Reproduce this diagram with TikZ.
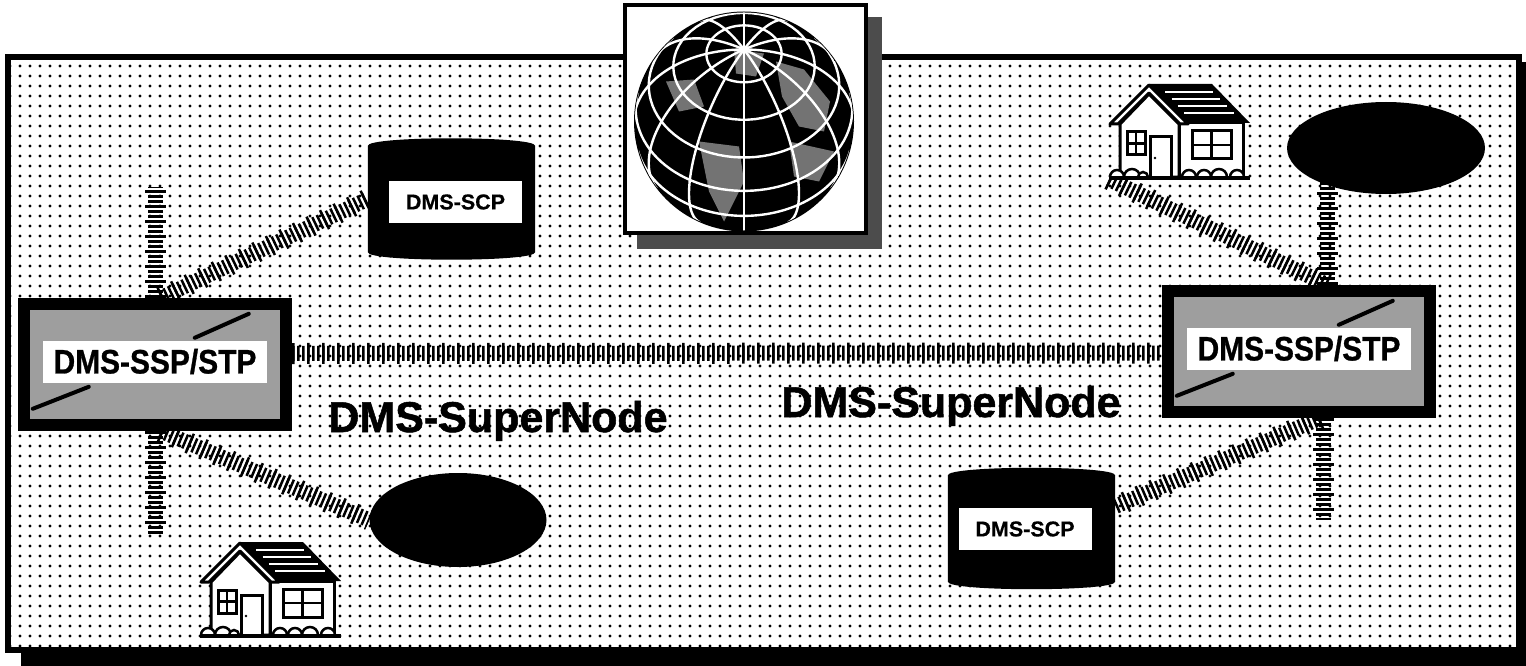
\documentclass[tikz,border=0pt]{standalone}
\usepackage{fontspec}
\setmainfont{Liberation Sans}
\newfontfamily\condsans[FakeStretch=0.88, FakeBold=0.8]{Liberation Sans}
\newfontfamily\heavysans[FakeBold=1.2]{Liberation Sans}
\newfontfamily\labelsans[FakeBold=0.5]{Liberation Sans}
\usetikzlibrary{shapes.geometric,patterns}

\pgfdeclarelayer{back}
\pgfdeclarelayer{links}
\pgfsetlayers{back,links,main}

% dotted screen of the panel
\pgfdeclarepatternformonly{dotgrid}{\pgfqpoint{-2pt}{-2pt}}{\pgfqpoint{2pt}{2pt}}{\pgfqpoint{10pt}{10pt}}%
  {\pgfpathcircle{\pgfpointorigin}{1.7pt}\pgfusepath{fill}}

\tikzset{
  link/.style={line width=15pt, dash pattern=on 2.5pt off 2.5pt,
    preaction={draw, line width=21pt, dash pattern=on 2.5pt off 12.5pt}},
  sspbox/.style={rectangle, fill=black, inner sep=0pt, minimum width=274pt, minimum height=133pt},
  sspband/.style={rectangle, fill=white, inner sep=0pt, minimum width=224pt, minimum height=42pt,
    font=\condsans\bfseries\fontsize{34}{34}\selectfont},
  scpbox/.style={rectangle, inner sep=0pt, minimum width=167pt, minimum height=122pt},
  scplabel/.style={rectangle, fill=white, inner sep=0pt, minimum width=133pt, minimum height=42pt,
    font=\labelsans\bfseries\fontsize{21.5}{21.5}\selectfont},
  blob/.style={ellipse, fill=black, inner sep=0pt},
  globebox/.style={rectangle, fill=white, draw=black, line width=4pt, inner sep=0pt,
    minimum width=241pt, minimum height=228pt},
  iconbox/.style={rectangle, inner sep=0pt, minimum width=141pt, minimum height=95pt, anchor=north west},
  supertext/.style={anchor=base, inner sep=0pt, font=\heavysans\bfseries\fontsize{43}{43}\selectfont},
  gline/.style={white, line width=2.4pt},
  house/.pic={
    % side roof with shingle lines
    \fill[black] (40,0) -- (103,0) -- (141,39) -- (76,39) -- cycle;
    \foreach \yy in {8,15,22,29}
      \draw[white, line width=2pt] ({40+0.9*\yy+9},\yy) -- ({103+\yy-7},\yy);
    % walls
    \filldraw[fill=white, line width=3pt] (70,39) rectangle (134,93);
    \filldraw[fill=white, line width=3pt, line join=round]
      (11,93) -- (11,40) -- (40,10) -- (70,40) -- (70,93) -- cycle;
    % gable trim
    \filldraw[fill=white, line width=3pt, line join=round]
      (1,40) -- (40,1) -- (79,40) -- (71,40) -- (40,9) -- (9,40) -- cycle;
    % windows and door
    \filldraw[fill=white, line width=3pt] (18,48) rectangle (36,71);
    \draw[line width=2.5pt] (27,48) -- (27,71) (18,59.5) -- (36,59.5);
    \filldraw[fill=white, line width=3pt] (83,47) rectangle (122,75);
    \draw[line width=2.5pt] (102.5,47) -- (102.5,75) (83,61) -- (122,61);
    \filldraw[fill=white, line width=3pt] (41,53) rectangle (62,93);
    \fill (46,74) circle (1.3);
    % shrubs and ground
    \foreach \bx/\br in {8/7, 23/8, 34/5, 80/7, 95/7, 110/8, 128/7}
      \filldraw[fill=white, line width=2.5pt] (\bx-\br,93) arc (180:360:\br);
    \draw[line width=4pt] (0,93.5) -- (141,93.5);
  }
}

% drum-shaped outline of a DMS-SCP
\newcommand\scpshape[1]{%
  \fill ([yshift=-8pt]#1.north west) .. controls ([yshift=2pt]#1.north west) and ([yshift=2pt]#1.north east) ..
    ([yshift=-8pt]#1.north east) -- ([yshift=8pt]#1.south east)
    .. controls ([yshift=-2pt]#1.south east) and ([yshift=-2pt]#1.south west) ..
    ([yshift=8pt]#1.south west) -- cycle;}

% shaded face and diagonal strokes of a DMS-SSP/STP
\newcommand\sspface[1]{%
  \fill[black!38] ([shift={(12,12)}]#1.north west) rectangle ([shift={(-12,-12)}]#1.south east);
  \draw[line width=4pt, line cap=round] ([shift={(177,40)}]#1.north west) -- ([shift={(231,16)}]#1.north west);
  \draw[line width=4pt, line cap=round] ([shift={(15,111)}]#1.north west) -- ([shift={(71,89)}]#1.north west);}

\begin{document}
\begin{tikzpicture}[x=1pt,y=-1pt]
\useasboundingbox (0,0) rectangle (1526,666);

% panel with drop shadow
\begin{pgfonlayer}{back}
  \fill[white] (0,0) rectangle (1526,666);
  \fill[black] (21,62) rectangle (1526,666);
  \fill[white] (8,57) rectangle (1519,650);
  \fill[pattern=dotgrid] (8,57) rectangle (1519,650);
  \draw[line width=6pt] (8,57) rectangle (1519,650);
\end{pgfonlayer}

% globe
\node[globebox] (globe) at (745.5,119) {};
\begin{pgfonlayer}{back}
  \fill[black!70] ([shift={(14,14)}]globe.north west) rectangle ([shift={(14,14)}]globe.south east);
\end{pgfonlayer}
\begin{scope}[shift={(globe.center)}, shift={(-1.5,2.5)}, yscale=-1]
  \fill (0,0) circle (110);
  \begin{scope}
    \clip (0,0) circle (109);
    % shaded land masses
    \fill[black!55] (32,60) -- (60,52) -- (86,20) -- (80,-10) -- (55,-5) -- (38,25) -- cycle;
    \fill[black!55] (-45,-20) -- (-5,-25) -- (0,-60) -- (-20,-100) -- (-35,-70) -- cycle;
    \fill[black!55] (-78,40) -- (-50,42) -- (-40,15) -- (-65,10) -- cycle;
    \fill[black!55] (-10,72) -- (20,68) -- (12,45) -- (-8,48) -- cycle;
    \fill[black!55] (45,-20) -- (90,-30) -- (75,-60) -- (50,-55) -- cycle;
    \foreach \lon in {0,30,...,330}{
      \pgfmathsetmacro\pmin{atan(-0.8667*cos(\lon))}
      \draw[gline] plot[domain=\pmin:90, samples=40, variable=\t]
        ({110*cos(\t)*sin(\lon)}, {110*(0.6547*sin(\t)-0.7559*cos(\t)*cos(\lon))});
    }
    \foreach \lat in {70,50,30,10,-10}{
      \pgfmathsetmacro\lmax{acos(max(-1,min(1,-1.1546*tan(\lat))))}
      \draw[gline] plot[domain=-\lmax:\lmax, samples=60, variable=\t]
        ({110*cos(\lat)*sin(\t)}, {110*(0.6547*sin(\lat)-0.7559*cos(\lat)*cos(\t))});
    }
  \end{scope}
\end{scope}

% switching nodes
\node[sspbox] (sspL) at (155,364.5) {};
\sspface{sspL}
\node[sspband] (sspLt) at ([shift={(0,-3)}]sspL.center) {DMS-SSP/STP};

\node[sspbox] (sspR) at (1299,351.5) {};
\sspface{sspR}
\node[sspband] (sspRt) at ([shift={(0,-3)}]sspR.center) {DMS-SSP/STP};

% control points
\node[scpbox] (scpL) at (451.5,199) {};
\scpshape{scpL}
\node[scplabel] (scpLt) at (455.5,202) {DMS-SCP};

\node[scpbox] (scpR) at (1031.5,528.5) {};
\scpshape{scpR}
\node[scplabel] (scpRt) at (1025,529) {DMS-SCP};

% end offices
\node[blob, minimum width=177pt, minimum height=94pt] (ellL) at (458,520) {};
\node[blob, minimum width=198pt, minimum height=92pt] (ellR) at (1386,148) {};

\node[iconbox] (houseL) at (200,542) {};
\pic at (houseL.north west) {house};
\node[iconbox] (houseR) at (1109,84) {};
\pic at (houseR.north west) {house};

% captions
\node[supertext] (snL) at (498,432) {DMS-SuperNode};
\node[supertext] (snR) at (951,417) {DMS-SuperNode};

% signalling links
\coordinate (stubLup) at (155,187);
\coordinate (stubLdn) at (155,535);
\coordinate (stubRdn) at (1323,520);
\coordinate (rjoin) at ([xshift=28pt]sspR.north);
\begin{pgfonlayer}{links}
  \draw[link] ([yshift=11pt]sspL.east) -- ([yshift=-1.5pt]sspR.west);
  \draw[link] (sspL.north) -- (stubLup);
  \draw[link] ([xshift=6pt]sspL.north) -- (scpL.west);
  \draw[link] (sspL.south) -- (stubLdn);
  \draw[link] ([xshift=6pt]sspL.south) -- (ellL.west);
  \draw[link] (houseR.south west) -- (rjoin);
  \draw[link] (rjoin) -- (rjoin |- ellR.center);
  \draw[link] ([xshift=24pt]sspR.south) -- (stubRdn);
  \draw[link] ([xshift=21pt]sspR.south) -- ([yshift=22pt]scpR.east);
\end{pgfonlayer}
\end{tikzpicture}
\end{document}
